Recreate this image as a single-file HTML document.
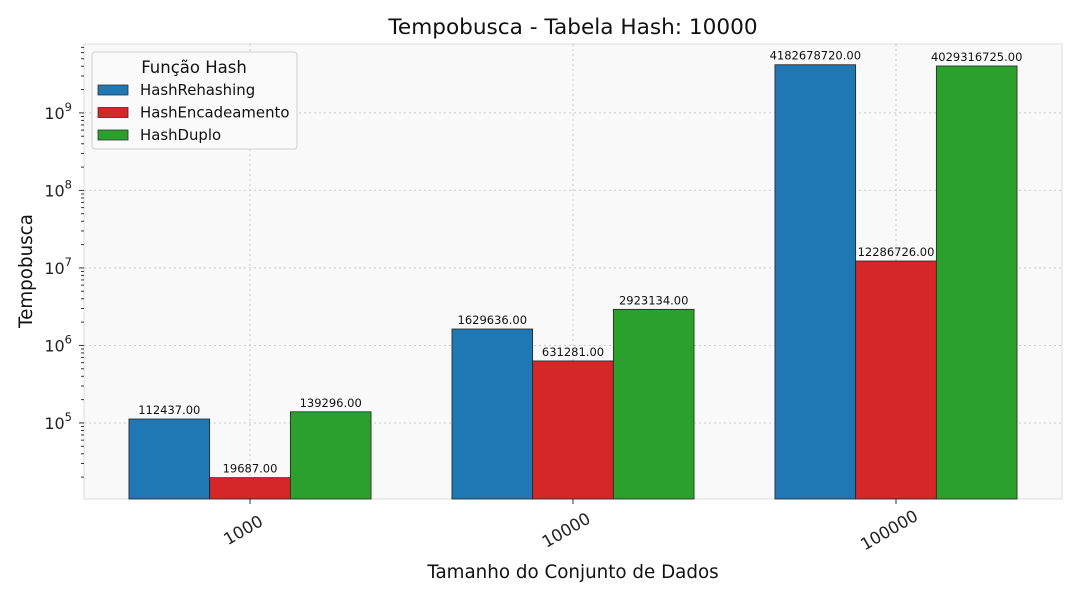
<!DOCTYPE html>
<html><head><meta charset="utf-8"><style>
body{margin:0;background:#fff;}
svg{display:block;font-family:"DejaVu Sans","Liberation Sans",sans-serif;}
</style></head><body>
<svg id="c" width="1080" height="600"></svg>
<script>
const categories=["1000","10000","100000"];
const seriesNames=["HashRehashing","HashEncadeamento","HashDuplo"];
const seriesColors=["#1f77b4","#d62728","#2ca02c"];
const rehashing=[112437,1629636,4182678720];
const encadeamento=[19687,631281,12286726];
const duplo=[139296,2923134,4029316725];
const yTicks=[5,6,7,8,9];
const series=[rehashing,encadeamento,duplo];
const NS="http://www.w3.org/2000/svg";
const svg=document.getElementById('c');
const L=84,R=1062,T=44,B=499;
const yMinLog=4.019,yMaxLog=9.889;
function y(v){return B-(Math.log10(v)-yMinLog)/(yMaxLog-yMinLog)*(B-T);}
const groupW=323;
function xc(i){return 250+groupW*i;}
const bw=80.7;
function el(t,a,p){const e=document.createElementNS(NS,t);for(const k in a)e.setAttribute(k,a[k]);(p||svg).appendChild(e);return e;}
let e=el('rect',{x:L,y:T,width:R-L,height:B-T,fill:'#f9f9f9',stroke:'#dddddd'});


yTicks.forEach(t=>{const yy=y(Math.pow(10,t));
 let g=el('line',{x1:L,x2:R,y1:yy,y2:yy,stroke:'#cccccc','stroke-dasharray':'2,3'});
 
 
 el('line',{x1:L-5,x2:L,y1:yy,y2:yy,stroke:'#333'});
 let tx=el('text',{x:L-12,y:yy+6,'text-anchor':'end','font-size':16,fill:'#222'});
 tx.innerHTML='10<tspan dy="-8" font-size="11.5">'+t+'</tspan>';
 
 
});
for(let d=4;d<=9;d++)for(let m=2;m<=9;m++){const v=m*Math.pow(10,d);const lv=Math.log10(v);if(lv<yMinLog||lv>yMaxLog)continue;const yy=y(v);el('line',{x1:L-3,x2:L,y1:yy,y2:yy,stroke:'#333'});}
categories.forEach((c,i)=>{const x=xc(i);
 let g=el('line',{x1:x,x2:x,y1:T,y2:B,stroke:'#cccccc','stroke-dasharray':'2,3'});
 
 
 el('line',{x1:x,x2:x,y1:B,y2:B+5,stroke:'#333'});
 let t=el('text',{x:0,y:0,'text-anchor':'middle','font-size':16.5,fill:'#222',transform:`translate(${x-4},${B+36}) rotate(-30)`});
 t.textContent=c;
 
 
});
series.forEach((s,k)=>{s.forEach((v,i)=>{const x=xc(i)+(k-1)*bw-bw/2;const yy=y(v);
 let r=el('rect',{x:x,y:yy,width:bw,height:B-yy,fill:seriesColors[k],stroke:'#222','stroke-width':0.8});
 
 
 let t=el('text',{x:x+bw/2,y:yy-5,'text-anchor':'middle','font-size':11.5,fill:'#111'});
 t.textContent=v.toFixed(2);
 
 
});});
let t=el('text',{x:573,y:34,'text-anchor':'middle','font-size':21.6,fill:'#111'});t.textContent='Tempobusca - Tabela Hash: 10000';


t=el('text',{x:573,y:578,'text-anchor':'middle','font-size':18.3,fill:'#111'});t.textContent='Tamanho do Conjunto de Dados';


t=el('text',{x:0,y:0,'text-anchor':'middle','font-size':18.3,fill:'#111',transform:'translate(32,271) rotate(-90)'});t.textContent='Tempobusca';


const lg=el('g',{});


el('rect',{x:92,y:52,width:205,height:97,rx:3,fill:'#fafafa',stroke:'#d0d0d0'},lg);
let lt=el('text',{x:194,y:73,'text-anchor':'middle','font-size':16.5,fill:'#111'},lg);lt.textContent='Função Hash';
seriesNames.forEach((n,k)=>{const yy=85+k*22.5;
 let g=el('g',{},lg);
 
 
 el('rect',{x:98,y:yy,width:30,height:10,fill:seriesColors[k],stroke:'#333','stroke-width':0.8},g);
 let tt=el('text',{x:140,y:yy+10,'font-size':14.9,fill:'#111'},g);tt.textContent=n;
});
</script>
</body></html>
